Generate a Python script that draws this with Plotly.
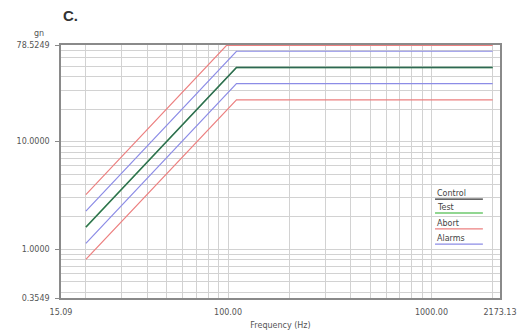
import math
import plotly.graph_objects as go

# Profile breakpoints (frequency in Hz, acceleration in gn)
freq_hz = [20, 110, 2000]
control_gn = [1.61, 48.6, 48.6]
test_gn = [1.61, 48.6, 48.6]
alarm_hi_gn = [2.27, 68.7, 68.7]
alarm_lo_gn = [1.14, 34.4, 34.4]
abort_hi_freq = [20, 98.4, 2000]
abort_hi_gn = [3.22, 78.0, 78.0]
abort_lo_gn = [0.81, 24.3, 24.3]

# Axis limits and labels
x_range = [15.09, 2173.13]
y_range = [0.3549, 78.5249]
x_ticks = [15.09, 100.0, 1000.0, 2173.13]
x_ticktext = ["15.09", "100.00", "1000.00", "2173.13"]
y_ticks = [0.3549, 1.0, 10.0, 78.5249]
y_ticktext = ["0.3549", "1.0000", "10.0000", "78.5249"]
x_grid = [20, 30, 40, 50, 60, 70, 80, 90, 100, 200, 300, 400, 500, 600, 700, 800, 900, 1000, 2000]
y_grid = [0.4, 0.5, 0.6, 0.7, 0.8, 0.9, 1, 2, 3, 4, 5, 6, 7, 8, 9, 10, 20, 30, 40, 50, 60, 70]

legend_names = ["Control", "Test", "Abort", "Alarms"]

RED = "#ec8080"
BLUE = "#8c8ce6"
GREEN = "#6cc86c"
DARK = "#1f4f4f"

fig = go.Figure()
line_w = 1.2
fig.add_trace(go.Scatter(x=freq_hz, y=abort_lo_gn, mode="lines", line=dict(color=RED, width=line_w)))
fig.add_trace(go.Scatter(x=abort_hi_freq, y=abort_hi_gn, mode="lines", line=dict(color=RED, width=line_w)))
fig.add_trace(go.Scatter(x=freq_hz, y=alarm_lo_gn, mode="lines", line=dict(color=BLUE, width=line_w)))
fig.add_trace(go.Scatter(x=freq_hz, y=alarm_hi_gn, mode="lines", line=dict(color=BLUE, width=line_w)))
fig.add_trace(go.Scatter(x=freq_hz, y=test_gn, mode="lines", line=dict(color=GREEN, width=1.6)))
fig.add_trace(go.Scatter(x=freq_hz, y=control_gn, mode="lines", line=dict(color=DARK, width=1.3), opacity=0.8))

axis_font = dict(family="DejaVu Sans", size=8, color="#555555")
grid_col = "#d2d2d2"

fig.update_xaxes(
    type="log",
    range=[math.log10(x_range[0]), math.log10(x_range[1])],
    tickvals=x_ticks, ticktext=x_ticktext, tickfont=axis_font,
    ticks="", showgrid=False, ticklabelstandoff=6,
    minor=dict(tickvals=x_grid, showgrid=True, gridcolor=grid_col, gridwidth=1, ticks=""),
    showline=True, linecolor="#8a8a8a", linewidth=1.5, mirror=True,
    zeroline=False, automargin=False,
    title=dict(text="Frequency (Hz)", font=dict(family="DejaVu Sans", size=8, color="#555555"), standoff=6),
)
fig.update_yaxes(
    type="log",
    range=[math.log10(y_range[0]), math.log10(y_range[1])],
    tickvals=y_ticks, ticktext=y_ticktext, tickfont=axis_font,
    ticks="outside", ticklen=4, tickcolor="#8a8a8a", ticklabelstandoff=4,
    showgrid=False,
    minor=dict(tickvals=y_grid, showgrid=True, gridcolor=grid_col, gridwidth=1, ticks=""),
    showline=True, linecolor="#8a8a8a", linewidth=1.5, mirror=True,
    zeroline=False, automargin=False,
)

# Legend drawn as text with a colored rule beneath each entry
legend_colors = ["#333333", GREEN, RED, BLUE]
text_y = [0.415, 0.356, 0.296, 0.237]
rule_y = [0.391, 0.336, 0.273, 0.213]
annotations = []
shapes = []
for name, col, ty, ry in zip(legend_names, legend_colors, text_y, rule_y):
    annotations.append(dict(
        x=0.852, y=ty, xref="paper", yref="paper", text=name, showarrow=False,
        xanchor="left", yanchor="middle", font=dict(family="DejaVu Sans", size=8, color="#444444"),
    ))
    shapes.append(dict(type="line", xref="paper", yref="paper", x0=0.852, x1=0.961, y0=ry, y1=ry,
                       line=dict(color=col, width=1.3)))

annotations.append(dict(x=-0.035, y=1.02, xref="paper", yref="paper", text="gn", showarrow=False,
                        xanchor="right", yanchor="bottom", font=dict(family="DejaVu Sans", size=8, color="#555555")))
annotations.append(dict(x=0.0, y=1.115, xref="paper", yref="paper", text="<b>C.</b>", showarrow=False,
                        xanchor="left", yanchor="middle", font=dict(family="Liberation Sans", size=15, color="#333333")))

fig.update_layout(
    width=530, height=331,
    margin=dict(l=61, r=30, t=45, b=33),
    paper_bgcolor="white", plot_bgcolor="white",
    showlegend=False,
    annotations=annotations, shapes=shapes,
)

fig.write_html("out.html")
